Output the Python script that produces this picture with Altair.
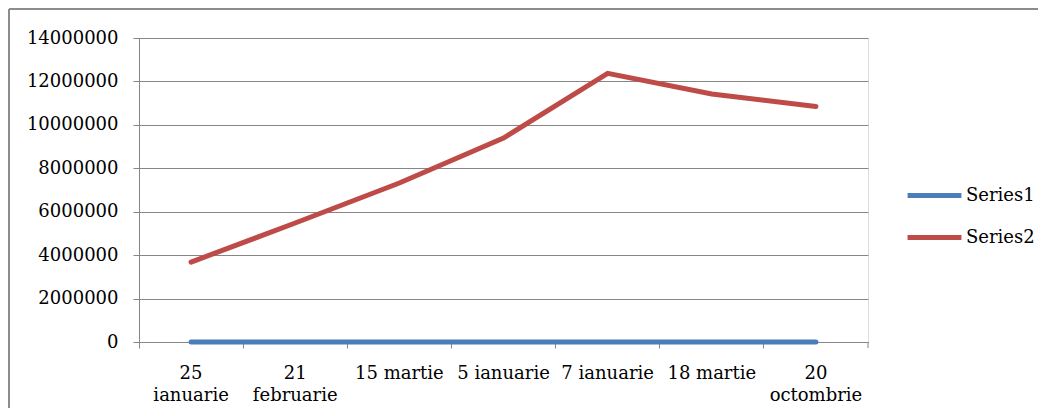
import altair as alt
import pandas as pd

categories = ["25 ianuarie", "21 februarie", "15 martie", "5 ianuarie",
              "7 ianuarie", "18 martie", "20 octombrie"]
tick_labels = [["25", "ianuarie"], ["21", "februarie"], ["15 martie"], ["5 ianuarie"],
               ["7 ianuarie"], ["18 martie"], ["20", "octombrie"]]
series1 = [0, 0, 0, 0, 0, 0, 0]
series2 = [3680000, 5480000, 7320000, 9390000, 12370000, 11420000, 10850000]
series_names = ["Series1", "Series2"]
series_colors = ["#4A7EBB", "#BE4B48"]

rows = []
for name, vals in zip(series_names, [series1, series2]):
    for c, v in zip(categories, vals):
        rows.append({"cat": c, "value": v, "series": name})
df = pd.DataFrame(rows)

# label expression for multi-line tick labels
expr = "datum.value"
for c, lines in reversed(list(zip(categories, tick_labels))):
    arr = "[" + ",".join("'" + l + "'" for l in lines) + "]"
    expr = f"datum.value == '{c}' ? {arr} : ({expr})"

FONT = "DejaVu Serif"
FS = 18
GRID = "#868686"

x_enc = alt.X(
    "cat:N", sort=categories, title=None, bandPosition=0.5,
    scale=alt.Scale(type="band", paddingInner=0, paddingOuter=0),
    axis=alt.Axis(bandPosition=0, labelAngle=0, labelExpr=expr, tickSize=6,
                  tickColor=GRID, domainColor=GRID, labelPadding=16,
                  labelLineHeight=22, labelFont=FONT, labelFontSize=FS,
                  labelColor="#000000", grid=False, labelBaseline="top"),
)
y_enc = alt.Y(
    "value:Q", title=None,
    scale=alt.Scale(domain=[0, 14000000], nice=False),
    axis=alt.Axis(values=list(range(0, 14000001, 2000000)), format="d",
                  tickSize=6, tickColor=GRID, domainColor=GRID, gridColor=GRID,
                  grid=True, labelPadding=15, labelFont=FONT, labelFontSize=FS,
                  labelColor="#000000"),
)

lines = alt.Chart(df).mark_line(strokeWidth=5, strokeCap="round").encode(
    x=x_enc,
    y=y_enc,
    color=alt.Color(
        "series:N", sort=series_names,
        scale=alt.Scale(domain=series_names, range=series_colors),
        legend=alt.Legend(title=None, orient="none", legendX=766, legendY=128,
                          symbolType="stroke", symbolSize=2900,
                          symbolStrokeWidth=5, labelFont=FONT, labelFontSize=FS,
                          labelColor="#000000", rowPadding=2, labelOffset=2),
    ),
    order=alt.Order("series:N"),
)

one = pd.DataFrame({"b": [0]})
border_top = alt.Chart(one).mark_rule(color="#8c8c8c", strokeWidth=2).encode(
    x=alt.value(-130), x2=alt.value(940), y=alt.value(-29))
border_left = alt.Chart(one).mark_rule(color="#8c8c8c", strokeWidth=2).encode(
    x=alt.value(-130), y=alt.value(-29), y2=alt.value(370))

end_tick = alt.Chart(one).mark_rule(color=GRID).encode(
    x=alt.value(729), y=alt.value(304), y2=alt.value(310)
)

chart = alt.layer(border_top, border_left, lines, end_tick).properties(
    width=729, height=304,
    autosize=alt.AutoSizeParams(type="none"),
    padding={"left": 131, "top": 30, "right": 170, "bottom": 66},
).configure_view(stroke=None).configure(background="transparent")

chart.save("out.html", embed_options={"renderer": "svg", "actions": False})
